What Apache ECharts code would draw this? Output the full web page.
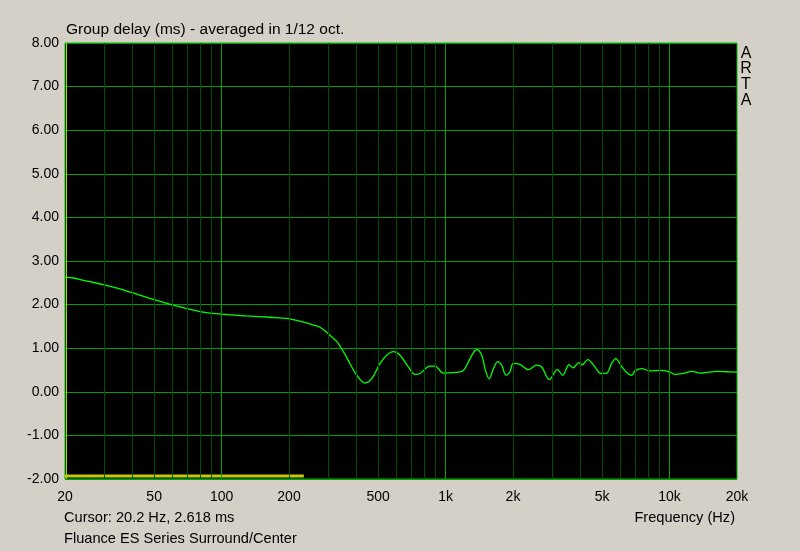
<!DOCTYPE html>
<html><head><meta charset="utf-8">
<script src="https://cdn.jsdelivr.net/npm/echarts@6/dist/echarts.min.js"></script>
<style>html,body{margin:0;padding:0;background:#d4d0c8}#c{width:800px;height:551px}</style>
</head><body><div id="c"></div>
<script>
const freqs = [20,21.8,25,29.6,35.2,39.5,49.6,59.7,69.9,80.1,99.7,129.5,164.6,198.6,224,240,257,275,295,327,350,374,401,437,468,510,546,585,626,682,731,769,852,897,977,1083,1200,1286,1377,1450,1500,1564,1635,1710,1780,1862,1939,2005,2148,2340,2552,2686,2905,3154,3334,3557,3717,3929,4075,4308,4645,4941,5237,5516,5747,6111,6501,6776,7015,7509,8182,9226,10046,10571,11717,12560,13684,14904,16239,17990,20000];
const delayMs = [2.63,2.61,2.54,2.46,2.36,2.28,2.12,2.00,1.91,1.84,1.78,1.74,1.71,1.68,1.62,1.58,1.53,1.48,1.36,1.15,0.92,0.65,0.38,0.20,0.30,0.65,0.84,0.92,0.84,0.57,0.40,0.42,0.59,0.59,0.43,0.44,0.49,0.76,0.97,0.84,0.53,0.30,0.53,0.69,0.61,0.38,0.46,0.65,0.63,0.51,0.61,0.57,0.28,0.51,0.38,0.62,0.55,0.67,0.62,0.74,0.57,0.42,0.43,0.65,0.76,0.58,0.42,0.38,0.48,0.53,0.48,0.49,0.45,0.40,0.43,0.47,0.43,0.45,0.47,0.46,0.45];
const xTickLabels = [20,50,100,200,500,1000,2000,5000,10000,20000];
const minorGridFreqs = [30,40,50,60,70,80,90,200,300,400,500,600,700,800,900,2000,3000,4000,5000,6000,7000,8000,9000];
const majorGridFreqs = [100,1000,10000];
const barFreqs = [20,233];
const barLevel = -1.93;
const cursorFreq = 20.2;

const font = 'Liberation Sans';
const chart = echarts.init(document.getElementById('c'), null, {renderer:'canvas'});
const fmtHz = v => v >= 1000 ? (v/1000) + 'k' : String(v);
chart.setOption({
  backgroundColor: '#d4d0c8',
  animation: false,
  textStyle: {fontFamily: font},
  grid: {left: 65, top: 43, right: 63, bottom: 72, show: true, backgroundColor: '#000', borderColor: '#00c000', borderWidth: 1, containLabel: false},
  xAxis: {
    type: 'log', logBase: 10, min: 20, max: 20000,
    axisLine: {show: false}, axisTick: {show: false},
    splitLine: {show: false},
    axisLabel: {customValues: xTickLabels, formatter: v => fmtHz(Math.round(v)), color: '#000', fontSize: 14, fontFamily: font, margin: 11}
  },
  yAxis: {
    type: 'value', min: -2, max: 8, interval: 1,
    axisLine: {show: false}, axisTick: {show: false},
    splitLine: {show: true, lineStyle: {color: '#00a000', width: 1}},
    axisLabel: {formatter: v => v.toFixed(2), color: '#000', fontSize: 14, fontFamily: font, margin: 6}
  },
  series: [
    {
      type: 'line', data: [], silent: true,
      markLine: {
        silent: true, symbol: 'none', label: {show: false}, animation: false,
        data: minorGridFreqs.map(f => ({xAxis: f, lineStyle: {color: '#004c00', width: 1, type: 'solid'}}))
          .concat(majorGridFreqs.map(f => ({xAxis: f, lineStyle: {color: '#00a000', width: 1, type: 'solid'}})))
      }
    },
    {
      type: 'line', silent: true, symbol: 'none',
      data: barFreqs.map(f => [f, barLevel]),
      lineStyle: {color: '#c8c800', width: 3}
    },
    {
      type: 'line', silent: true, symbol: 'none', smooth: 0.35,
      data: freqs.map((f, i) => [f, delayMs[i]]),
      lineStyle: {color: '#00ff00', width: 1.3},
      markLine: {
        silent: true, symbol: 'none', label: {show: false},
        data: [{xAxis: cursorFreq, lineStyle: {color: '#c8c800', width: 1, type: 'solid'}}]
      }
    }
  ],
  graphic: [
    {type: 'text', left: 66, top: 22, style: {text: 'Group delay (ms) - averaged in 1/12 oct.', fill: '#000', font: '15.5px ' + font}},
    {type: 'text', left: 64, top: 510, style: {text: 'Cursor: 20.2 Hz, 2.618 ms', fill: '#000', font: '14.6px ' + font}},
    {type: 'text', left: 64, top: 531, style: {text: 'Fluance ES Series Surround/Center', fill: '#000', font: '14.6px ' + font}},
    {type: 'text', right: 65, top: 510, style: {text: 'Frequency (Hz)', fill: '#000', font: '14.6px ' + font}},
    {type: 'text', x: 746, y: 45.5, style: {text: 'A\nR\nT\nA', fill: '#000', font: '16px ' + font, lineHeight: 15.6, align: 'center', verticalAlign: 'top'}}
  ]
});
</script></body></html>
